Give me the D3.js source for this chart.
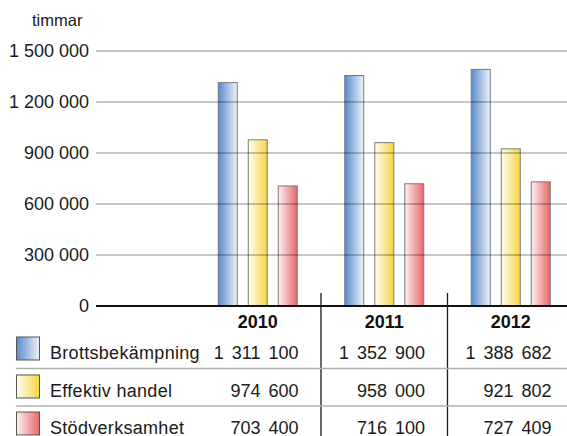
<!DOCTYPE html>
<html>
<head>
<meta charset="utf-8">
<script src="https://cdn.jsdelivr.net/npm/d3@7"></script>
<style>
  html, body { margin: 0; padding: 0; background: #fff; }
  svg { display: block; font-family: "Liberation Sans", Arial, Helvetica, sans-serif; }
</style>
</head>
<body>
<svg id="chart" width="567" height="436"></svg>
<script>
// Timmar per verksamhetsområde och år
const years = ["2010", "2011", "2012"];
const series = ["Brottsbekämpning", "Effektiv handel", "Stödverksamhet"];
const brottsbekampning = [1311100, 1352900, 1388682];
const effektivHandel = [974600, 958000, 921802];
const stodverksamhet = [703400, 716100, 727409];
const yTicks = [0, 300000, 600000, 900000, 1200000, 1500000];
const unitLabel = "timmar";

const values = [brottsbekampning, effektivHandel, stodverksamhet];
const colors = [
  { from: "#5a8bcb", to: "#eef2fa" },
  { from: "#fffdf2", to: "#f5d544" },
  { from: "#fdf0f0", to: "#e7676a" }
];

const W = 567, H = 436;
const FS = 18;
const svg = d3.select("#chart");
const defs = svg.append("defs");
colors.forEach((c, i) => {
  const g = defs.append("linearGradient").attr("id", "grad" + i)
    .attr("x1", "0%").attr("x2", "100%").attr("y1", "0%").attr("y2", "0%");
  g.append("stop").attr("offset", "0%").attr("stop-color", c.from);
  g.append("stop").attr("offset", "100%").attr("stop-color", c.to);
});

// Tusentalsavgränsare: mellanslag
const fmt = d3.formatLocale({ decimal: ",", thousands: "\u00a0", grouping: [3], currency: ["", ""] }).format(",d");

const y = d3.scaleLinear().domain([0, 1500000]).range([305.5, 50.5]);
const x = d3.scaleBand().domain(years).range([194.5, 574]).paddingInner(0).paddingOuter(0);
const xs = d3.scaleBand().domain(series).paddingInner(0.367).paddingOuter(0);

const gridLeft = 96, gridRight = W;

// Staplar
const groups = svg.append("g").selectAll("g").data(years).join("g")
  .attr("transform", d => `translate(${x(d)},0)`);
groups.each(function (yr, yi) {
  const cx = x.bandwidth() / 2;
  xs.range([cx - 39.5, cx + 39.5]);
  d3.select(this).selectAll("rect").data(series).join("rect")
    .attr("x", s => xs(s))
    .attr("width", xs.bandwidth())
    .attr("y", (s, si) => y(values[si][yi]))
    .attr("height", (s, si) => y(0) - y(values[si][yi]))
    .attr("fill", (s, si) => `url(#grad${si})`)
    .attr("stroke", "#7a7a7a")
    .attr("stroke-width", 1);
});

// Y-axel med stödlinjer
const axis = d3.axisLeft(y).tickValues(yTicks).tickFormat(fmt)
  .tickSize(-(gridRight - gridLeft)).tickPadding(7);
const gAxis = svg.append("g").attr("transform", `translate(${gridLeft},0)`).call(axis);
gAxis.select(".domain").remove();
gAxis.selectAll(".tick line")
  .attr("stroke", d => d === 0 ? "#111" : "rgba(0,0,0,0.3)")
  .attr("stroke-width", d => d === 0 ? 2 : 1.5);
gAxis.selectAll(".tick text")
  .attr("font-size", FS).attr("fill", "#1a1a1a")
  .attr("font-family", "'Liberation Sans', Arial, sans-serif");

svg.append("text").attr("x", 32).attr("y", 26)
  .attr("font-size", 16.5).attr("fill", "#1a1a1a").text(unitLabel);

// Tabell
const headerY = 328;
const rowY = [359, 397, 434];

svg.append("g").selectAll("line").data(years.slice(1)).join("line")
  .attr("x1", d => x(d)).attr("x2", d => x(d))
  .attr("y1", 293).attr("y2", H)
  .attr("stroke", "#1a1a1a").attr("stroke-width", 1.3);

svg.append("g").selectAll("line").data([0, 1]).join("line")
  .attr("x1", 16).attr("x2", W)
  .attr("y1", i => (rowY[i] + rowY[i + 1]) / 2 - 9.5)
  .attr("y2", i => (rowY[i] + rowY[i + 1]) / 2 - 9.5)
  .attr("stroke", "#b0b0b0").attr("stroke-width", 1.5);

svg.append("g").selectAll("text").data(years).join("text")
  .attr("x", d => x(d) + x.bandwidth() / 2)
  .attr("y", headerY)
  .attr("text-anchor", "middle")
  .attr("font-size", FS).attr("font-weight", "bold").attr("fill", "#111")
  .text(d => d);

const rows = svg.append("g").selectAll("g").data(series).join("g");
rows.append("rect")
  .attr("x", 16.5).attr("y", (d, i) => rowY[i] - 22)
  .attr("width", 23).attr("height", 23)
  .attr("fill", (d, i) => `url(#grad${i})`)
  .attr("stroke", "#555").attr("stroke-width", 1);
rows.append("text")
  .attr("x", 50).attr("y", (d, i) => rowY[i])
  .attr("font-size", FS).attr("letter-spacing", 0.3).attr("fill", "#1a1a1a")
  .text(d => d);
rows.each(function (s, si) {
  d3.select(this).selectAll("text.val").data(years).join("text")
    .attr("class", "val")
    .attr("x", yr => x(yr) + x.bandwidth() - 22.5)
    .attr("y", rowY[si])
    .attr("text-anchor", "end")
    .attr("font-size", FS).attr("word-spacing", 3).attr("fill", "#1a1a1a")
    .text((yr, yi) => fmt(values[si][yi]));
});
</script>
</body>
</html>
